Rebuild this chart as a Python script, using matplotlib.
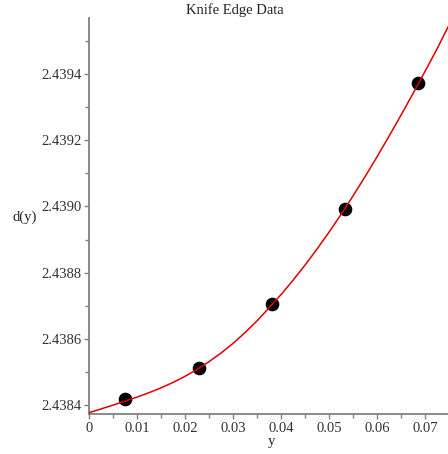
import matplotlib
matplotlib.use("Agg")
import matplotlib.pyplot as plt
from matplotlib.ticker import MultipleLocator

# === Data ===
y_data = [0.0076, 0.0229, 0.0381, 0.0533, 0.0686]
d_data = [2.4384172, 2.4385127, 2.4387051, 2.4389921, 2.4393728]

# fitted curve, sampled along y
y_fit = [0.0, 0.0025, 0.005, 0.0075, 0.010, 0.0125, 0.015, 0.0175, 0.020,
         0.0225, 0.025, 0.0275, 0.030, 0.0325, 0.035, 0.0375, 0.040, 0.0425,
         0.045, 0.0475, 0.050, 0.0525, 0.055, 0.0575, 0.060, 0.0625, 0.065,
         0.0675, 0.070, 0.0725, 0.0748]
d_fit = [2.4383767, 2.4383881, 2.4383996, 2.4384115, 2.4384239, 2.4384372,
         2.4384518, 2.4384681, 2.4384866, 2.4385074, 2.4385308, 2.4385569,
         2.4385859, 2.4386186, 2.4386541, 2.4386934, 2.4387335, 2.4387767,
         2.4388224, 2.4388710, 2.4389220, 2.4389755, 2.4390314, 2.4390894,
         2.4391495, 2.4392118, 2.4392755, 2.4393408, 2.4394075, 2.4394755,
         2.4395417]

x_ticks = [0, 0.01, 0.02, 0.03, 0.04, 0.05, 0.06, 0.07]
x_labels = ["0", "0.01", "0.02", "0.03", "0.04", "0.05", "0.06", "0.07"]
d_ticks = [2.4384, 2.4386, 2.4388, 2.4390, 2.4392, 2.4394]
d_labels = ["2.4384", "2.4386", "2.4388", "2.4390", "2.4392", "2.4394"]

# === Style ===
plt.rcParams["font.family"] = ["Liberation Serif", "DejaVu Serif"]
AXIS_COL = "#808080"
TEXT_COL = "#333333"

fig = plt.figure(figsize=(4.48, 4.54), dpi=100)
ax = fig.add_axes([89 / 448, 1 - 414.3 / 454, 1 - 89 / 448, (414.3 - 18) / 454])

ax.plot(y_data, d_data, "o", color="black", markersize=8.8, zorder=2)
ax.plot(y_fit, d_fit, color="#e00000", linewidth=1.1, zorder=3)

ax.set_xlim(0, 0.0748)
ax.set_ylim(2.4383719, 2.4395692)

ax.set_xticks(x_ticks)
ax.set_xticklabels(x_labels)
ax.set_yticks(d_ticks)
ax.set_yticklabels(d_labels)
ax.xaxis.set_minor_locator(MultipleLocator(0.005))
ax.yaxis.set_minor_locator(MultipleLocator(0.0001))

for side in ["top", "right"]:
    ax.spines[side].set_visible(False)
for side in ["left", "bottom"]:
    ax.spines[side].set_color(AXIS_COL)
    ax.spines[side].set_linewidth(1.3)

ax.tick_params(which="major", length=3.5, width=1, color=AXIS_COL,
               labelsize=10.5, labelcolor=TEXT_COL, pad=2)
ax.tick_params(which="minor", length=3, width=1, color=AXIS_COL)

fig.text(235 / 448, 1 - 10 / 454, "Knife Edge Data", ha="center", va="center",
         fontsize=10.5, color="#222222")
fig.text(25 / 448, 1 - 217 / 454, "d(y)", ha="center", va="center",
         fontsize=10.5, color="#222222")
fig.text(271 / 448, 1 - 442 / 454, "y", ha="center", va="center",
         fontsize=10.5, color="#222222")

fig.savefig("out.png", dpi=100)
